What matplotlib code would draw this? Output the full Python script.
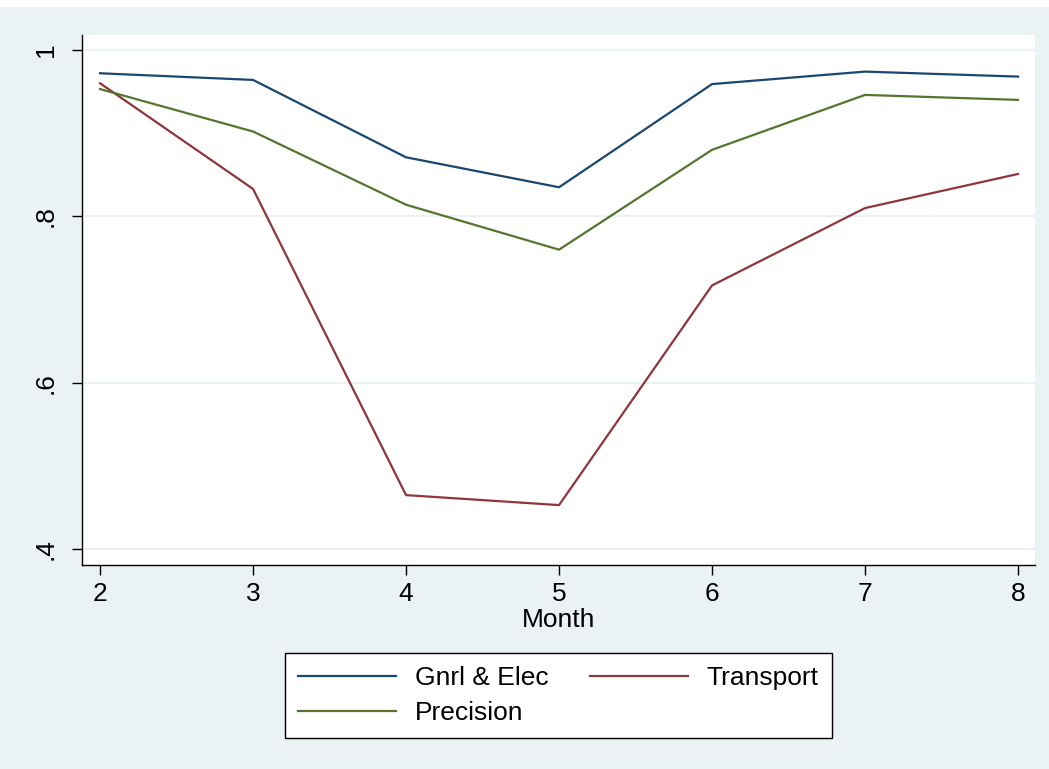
import matplotlib
matplotlib.use("Agg")
import matplotlib.pyplot as plt
from matplotlib.patches import Rectangle

months = [2, 3, 4, 5, 6, 7, 8]
gnrl_elec = [0.972, 0.964, 0.871, 0.835, 0.959, 0.974, 0.968]
transport = [0.960, 0.833, 0.465, 0.453, 0.717, 0.810, 0.851]
precision = [0.953, 0.902, 0.814, 0.760, 0.880, 0.946, 0.940]
y_ticks = [0.4, 0.6, 0.8, 1.0]
y_labels = [".4", ".6", ".8", "1"]

BG = "#EAF2F3"
plt.rcParams['font.family'] = ['Liberation Sans', 'DejaVu Sans']

W, H = 1049, 769
fig = plt.figure(figsize=(W / 100, H / 100), dpi=100)
fig.patch.set_facecolor(BG)
# white strip at the very top (cropped page)
fig.add_artist(Rectangle((0, 1 - 7 / H), 1, 7 / H, transform=fig.transFigure,
                         facecolor="white", edgecolor="none"))

ax = fig.add_axes([82 / W, 1 - 565 / H, (1035 - 82) / W, (565 - 35) / H])
ax.set_facecolor("white")

l1, = ax.plot(months, gnrl_elec, color="#1A476F", lw=1.6, label="Gnrl & Elec")
l2, = ax.plot(months, transport, color="#90353B", lw=1.6, label="Transport")
l3, = ax.plot(months, precision, color="#55752F", lw=1.6, label="Precision")

ax.set_xlim(1.882, 8.111)
ax.set_ylim(0.381, 1.018)
ax.set_xticks(months)
ax.set_yticks(y_ticks)
ax.set_yticklabels(y_labels, rotation=90, va="center")
ax.grid(axis="y", color=BG, lw=1.5)
ax.set_axisbelow(True)

for s in ["top", "right"]:
    ax.spines[s].set_visible(False)
for s in ["left", "bottom"]:
    ax.spines[s].set_color("black")
    ax.spines[s].set_linewidth(1.0)

ax.tick_params(direction="out", length=7.5, width=1, labelsize=19)
ax.tick_params(axis="x", pad=5)
ax.tick_params(axis="y", pad=10)
ax.set_xlabel("Month", fontsize=19, labelpad=1)

leg = fig.legend([l1, l3, l2], ["Gnrl & Elec", "Precision", "Transport"],
                 ncol=2, loc="upper center",
                 bbox_to_anchor=(558.5 / W, 1 - 653 / H),
                 fontsize=19, frameon=True, fancybox=False,
                 handlelength=3.7, handletextpad=0.7, columnspacing=1.6,
                 labelspacing=0.4, borderpad=0.5, borderaxespad=0)
leg.get_frame().set_edgecolor("black")
leg.get_frame().set_linewidth(1.0)
leg.get_frame().set_facecolor("white")
leg.get_frame().set_alpha(1)

fig.savefig("out.png", dpi=100, facecolor=fig.get_facecolor())
